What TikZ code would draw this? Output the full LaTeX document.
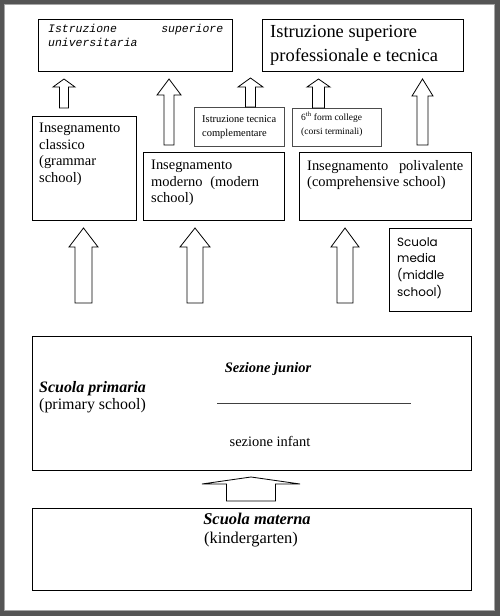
\documentclass[tikz,border=0pt]{standalone}
\usepackage{fontspec}
\usepackage{tikz}
\usepackage{xcolor}
\setmainfont{Liberation Serif}
\newfontfamily\courierit{Liberation Mono}[ItalicFont={* Italic}]
\newfontfamily\gothic{Poppins}
\definecolor{framegray}{HTML}{555555}
\hyphenpenalty=10000
\exhyphenpenalty=10000

\tikzset{
    box/.style={draw=black, line width=0.9bp, anchor=north west, inner sep=0pt},
    smallbox/.style={box, draw=black!70, line width=1.1bp},
    txt/.style={inner sep=0pt, anchor=north west},
    hollow/.style={draw=black, line width=0.8bp, fill=white, line join=miter}
}

\begin{document}
\begin{tikzpicture}[x=1bp, y=-1bp]

% page and frame
\useasboundingbox (0,0) rectangle (500,616);
\fill[framegray] (0,0) rectangle (500,616);
\draw[fill=white, draw=black!35, line width=1bp] (4.5,4.5) rectangle (494,610.5);

% upper level
\node[box, minimum width=194bp, minimum height=52bp] (univ) at (38,19) {};
\node[txt, text width=175bp, align=justify,
    font=\fontsize{11.5}{14}\courierit\itshape] (univtxt) at (48,24)
{Istruzione superiore universitaria};

\node[box, minimum width=201bp, minimum height=52bp] (prof) at (262,19) {};
\node[txt, align=left, font=\fontsize{18.5}{24}\selectfont] (proftxt) at (270,25)
{Istruzione superiore\\professionale e tecnica};

% middle level
\node[box, minimum width=104bp, minimum height=104bp] (classico) at (32,116) {};
\node[txt, align=left, font=\fontsize{14.5}{16.7}\selectfont] (classicotxt) at (39,123)
{Insegnamento\\classico\\(grammar\\school)};

\node[smallbox, minimum width=90bp, minimum height=39bp] (tecnica) at (194,107) {};
\node[txt, align=left, font=\fontsize{10.5}{14}\selectfont] (tecnicatxt) at (202,115)
{Istruzione tecnica\\complementare};

\node[smallbox, minimum width=89bp, minimum height=38bp] (college) at (292,108) {};
\node[txt, align=left, font=\fontsize{9.5}{14}\selectfont] (collegetxt) at (301,112)
{6\textsuperscript{th} form college\\(corsi terminali)};

\node[box, minimum width=141bp, minimum height=68bp] (moderno) at (143,152) {};
\node[txt, text width=108bp, align=justify,
    font=\fontsize{14.5}{16.7}\selectfont] (modernotxt) at (151,160)
{Insegnamento moderno (modern school)};

\node[box, minimum width=172bp, minimum height=68bp] (polivalente) at (299,152) {};
\node[txt, text width=156bp, align=justify,
    font=\fontsize{14.5}{16.7}\selectfont] (polivalentetxt) at (307,160)
{Insegnamento polivalente (comprehensive school)};

\node[box, minimum width=82bp, minimum height=83bp] (media) at (389,228) {};
\node[txt, align=left, font=\fontsize{12}{17}\gothic] (mediatxt) at (397,237)
{Scuola\\media\\(middle\\school)};

% block arrows: x / bottom / tip / shaft half width / head half width / head base
\foreach \x/\yb/\yt/\s/\h/\yh in {64/108/79/4.5/11/87, 169/145/79/5/12/95,
    250.5/107/78/5/12.5/87, 318.5/108/79/6/11.5/87, 422.5/145/79/5.5/10.5/96,
    83.5/303/228/8.5/14.5/247, 195/303/228/8/15/247, 345/303/228/8/14/247,
    251/501/477/24.5/49/484}
  \draw[hollow] (\x-\s,\yb) -- (\x-\s,\yh) -- (\x-\h,\yh) -- (\x,\yt)
      -- (\x+\h,\yh) -- (\x+\s,\yh) -- (\x+\s,\yb) -- cycle;

% primary school
\node[box, minimum width=439bp, minimum height=134bp] (primaria) at (32,336) {};
\node[anchor=base, inner sep=0pt, font=\fontsize{14.5}{16}\selectfont\bfseries\itshape]
    (junior) at (268,372) {Sezione junior};
\node[txt, align=left, font=\fontsize{16}{17}\selectfont] (primariatxt) at (39,381)
{\textbf{\textit{Scuola primaria}}\\(primary school)};
\draw[black!75, line width=0.9bp] (217,403) -- (411,403);
\node[anchor=base, inner sep=0pt, font=\fontsize{14.5}{16}\selectfont]
    (infant) at (270,446) {sezione infant};

% kindergarten
\node[box, minimum width=439bp, minimum height=82bp] (materna) at (32,508) {};
\node[anchor=base, inner sep=0pt, font=\fontsize{16.5}{18}\selectfont\bfseries\itshape]
    (maternatxt) at (257,524) {Scuola materna};
\node[anchor=base, inner sep=0pt, font=\fontsize{16.5}{18}\selectfont]
    (kindertxt) at (251,543) {(kindergarten)};

\end{tikzpicture}
\end{document}
